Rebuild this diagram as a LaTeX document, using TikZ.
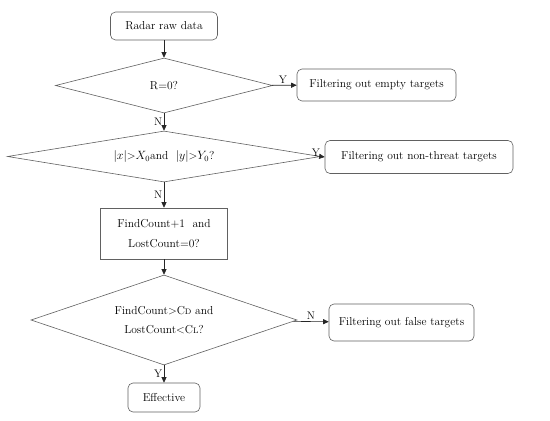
\documentclass[tikz,border=0pt]{standalone}
\usepackage{fontspec}
\usetikzlibrary{arrows.meta,shapes.geometric}

\begin{document}
\begin{tikzpicture}[
  x=1pt,y=-1pt,
  font=\fontsize{11.5}{19.5}\selectfont,
  term/.style={draw=black!62, rounded corners=5pt, fill=white, inner sep=2pt, align=center, line width=0.6pt},
  proc/.style={draw=black!62, fill=white, inner sep=2pt, align=center, line width=0.6pt},
  cond/.style={diamond, draw=black!62, fill=white, inner sep=0pt, align=center, line width=0.6pt},
  edge/.style={-{Triangle[length=5.5pt,width=5pt]}, draw=black!85, line width=0.6pt},
  lab/.style={font=\fontsize{11}{12}\selectfont, inner sep=1.5pt}
]
  \useasboundingbox (0,0) rectangle (550,421);

  \node[term, minimum width=107, minimum height=28] (raw) at (164,26) {Radar raw data};
  \node[cond, aspect=3.95, minimum width=217, minimum height=55] (zero) at (164,85.5) {R=0?};
  \node[term, minimum width=159, minimum height=32] (empty) at (376.5,85) {Filtering out empty targets};

  \node[cond, aspect=6.1, minimum width=313, minimum height=51] (range) at (164,156.5)
    {$|x|$>$X_0$and~ $|y|$>$Y_0$?};
  \node[term, minimum width=188, minimum height=33] (threat) at (419,157) {Filtering out non-threat targets};

  \node[proc, minimum width=127, minimum height=51] (count) at (164,233.5) {FindCount+1~ and\\LostCount=0?};

  \node[cond, aspect=2.96, minimum width=266, minimum height=90] (check) at (164,320)
    {FindCount>C{\fontsize{8}{9}\selectfont D} and\\LostCount<C{\fontsize{8}{9}\selectfont L}?};
  \node[term, minimum width=145, minimum height=37] (false) at (401.5,322.5) {Filtering out false targets};

  \node[term, minimum width=72, minimum height=29] (eff) at (164,397.5) {Effective};

  \draw[edge] (raw) -- (zero);
  \draw[edge] (zero) -- node[lab, above, pos=0.45] {Y} (empty);
  \draw[edge] (zero) -- node[lab, left, pos=0.5] {N} (range);
  \draw[edge] (range.east) -- (threat.west) node[lab, above left, pos=0, xshift=1pt, yshift=-2pt] {Y};
  \draw[edge] (range) -- node[lab, left, pos=0.5] {N} (count);
  \draw[edge] (count) -- (check);
  \draw[edge] (check) -- node[lab, above, pos=0.5] {N} (false);
  \draw[edge] (check) -- node[lab, left, pos=0.5] {Y} (eff);
\end{tikzpicture}
\end{document}
